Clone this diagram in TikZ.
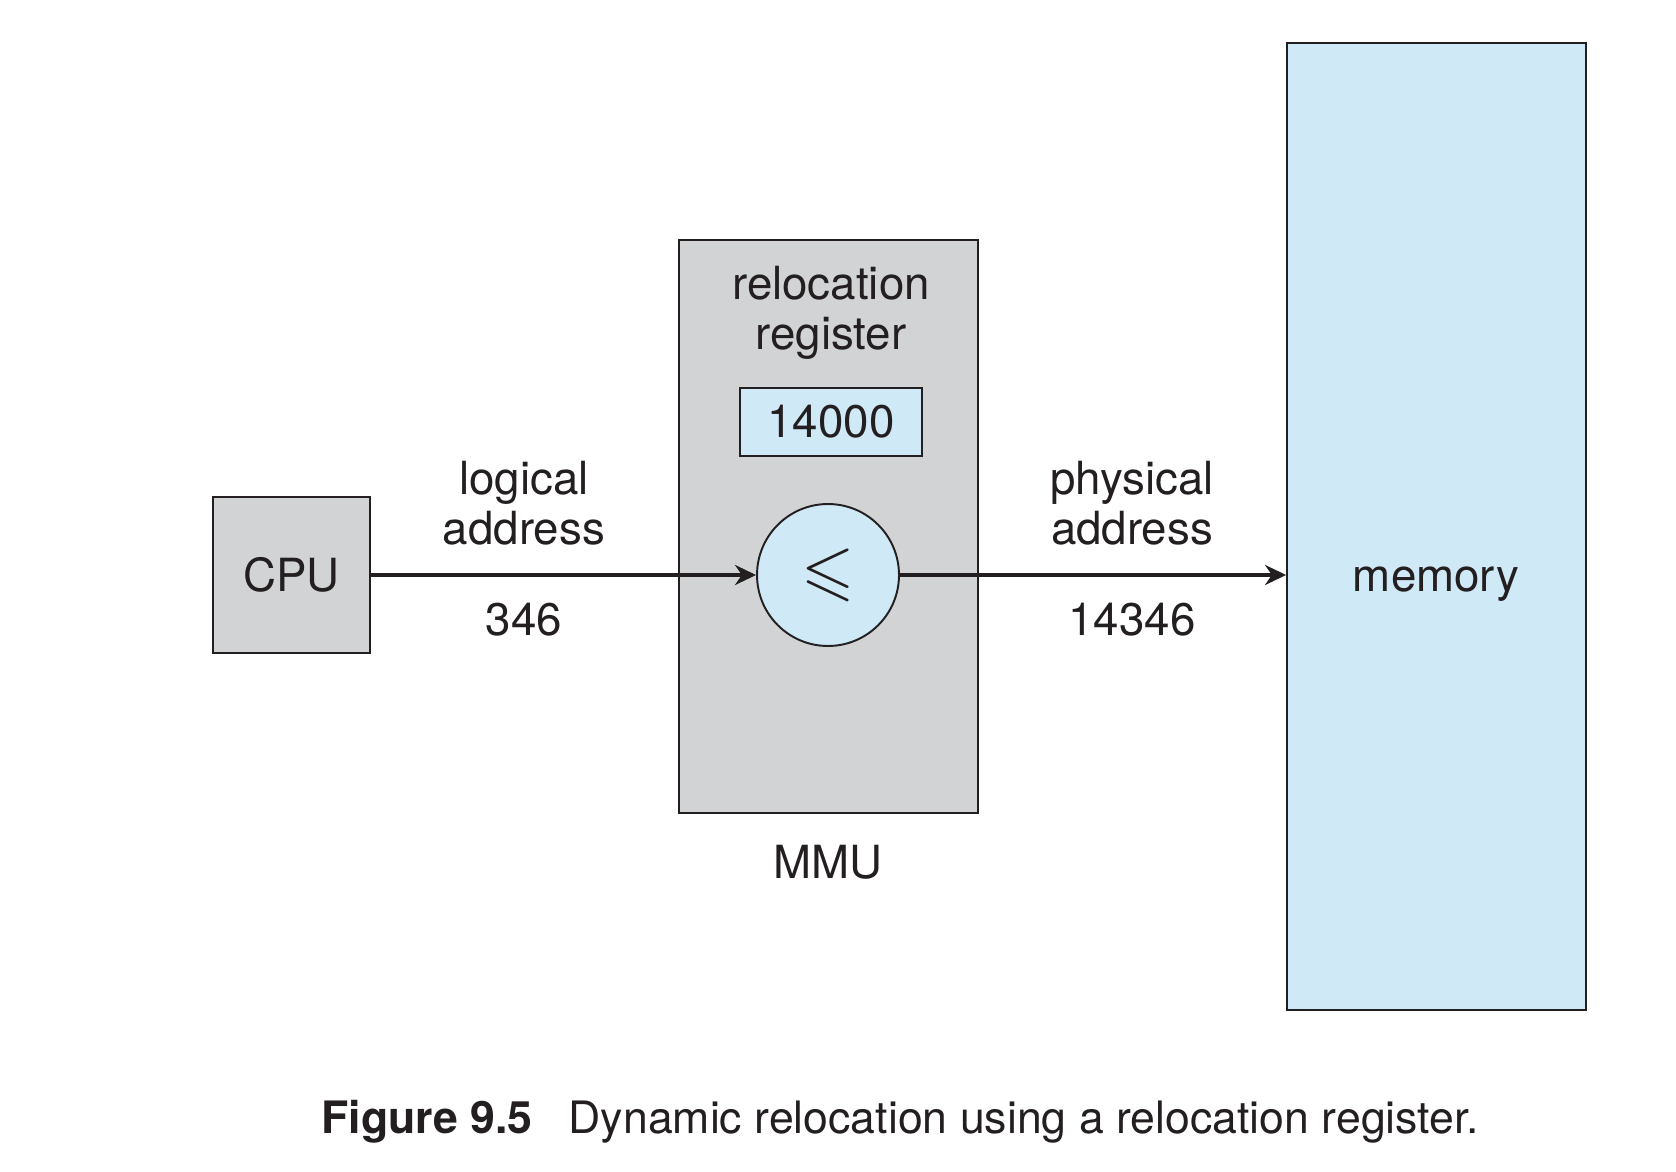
\documentclass[tikz,border=0pt]{standalone}
\usepackage{fontspec}
\setmainfont{TeX Gyre Heros}
\usepackage{amssymb}
\usepackage{xcolor}
\definecolor{mmugray}{RGB}{209,211,212}
\definecolor{regblue}{RGB}{207,233,247}
\definecolor{ink}{RGB}{35,31,32}
\usepackage{tikz}
\usetikzlibrary{positioning, arrows.meta}
\tikzstyle{box} = [
    rectangle, text centered,
    draw=ink,
    line width=1.1pt,
    text=ink,
]
\tikzstyle{unit} = [
    box,
    fill=mmugray,
]
\tikzstyle{reg} = [
    box,
    fill=regblue,
]
\tikzstyle{txt} = [
    text=ink,
    align=center,
]
\tikzstyle{arrow} = [-{Stealth[length=0.42cm,width=0.4cm]}, line width=2.4pt, draw=ink]

\begin{document}
\begin{tikzpicture}[x=0.02cm, y=-0.02cm, font=\fontsize{26}{28.5}\selectfont]
    \useasboundingbox (0,0) rectangle (1676,1172);

    % boxes
    \node (cpu) at (291.5, 575) [unit, minimum width=3.14cm, minimum height=3.12cm] {CPU};
    \node (mmu) at (828.5, 526.5) [unit, minimum width=5.98cm, minimum height=11.46cm] {};
    \node (reg) at (831, 422) [reg, minimum width=3.64cm, minimum height=1.36cm] {14000};
    \node (adder) at (828, 575) [reg, circle, minimum size=2.84cm] {\scalebox{1.5}{$\leqslant$}};
    \node (memory) at (1436.5, 526.5) [reg, minimum width=5.98cm, minimum height=19.34cm] {};

    % labels
    \node (regtxt) at (831, 313) [txt] {relocation\\register};
    \node (mmutxt) at (828, 878) [txt, anchor=base] {MMU};
    \node (memtxt) at (1436, 591) [txt, anchor=base] {memory};
    \node (logtxt) at (524, 503) [txt] {logical\\address};
    \node (logval) at (524, 635) [txt, anchor=base] {346};
    \node (phytxt) at (1132, 503) [txt] {physical\\address};
    \node (phyval) at (1132, 635) [txt, anchor=base] {14346};

    % arrows
    \draw [arrow] (cpu.east) to (adder.west);
    \draw [arrow] (adder.east) to (memory.west |- adder.east);

    % caption
    \node (fignum) at (315.5, 1133) [txt, anchor=base west, font=\fontsize{25.4}{28}\selectfont\bfseries] {Figure 9.5};
    \node (figtxt) at (562.5, 1133) [txt, anchor=base west, font=\fontsize{25.4}{28}\selectfont] {Dynamic relocation using a relocation register.};
\end{tikzpicture}
\end{document}
